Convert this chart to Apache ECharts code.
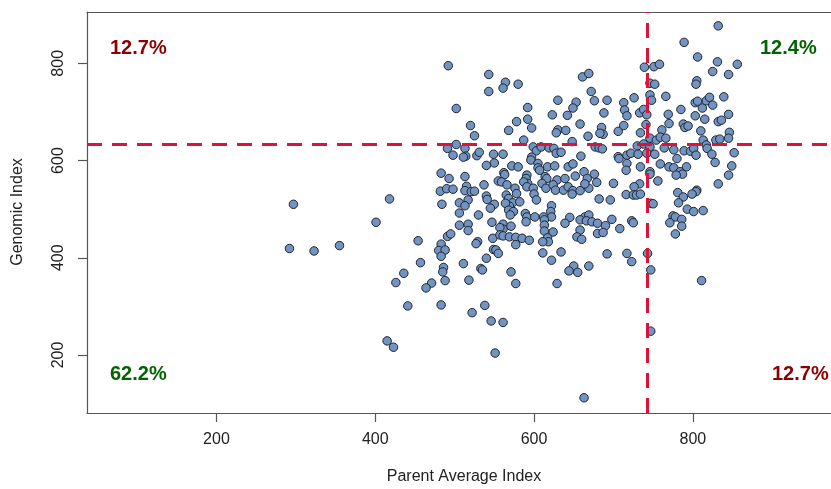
<!DOCTYPE html>
<html>
<head>
<meta charset="utf-8">
<script src="https://cdn.jsdelivr.net/npm/echarts@6/dist/echarts.min.js"></script>
<style>
  html, body { margin: 0; padding: 0; background: #ffffff; }
  #chart { width: 831px; height: 489px; }
</style>
</head>
<body>
<div id="chart"></div>
<script>
// Parent average index vs. genomic index, one pair per animal
const parentAvg = [
  297, 292, 323, 355,
  492, 543, 543, 502, 520, 525, 502, 491, 513, 498, 514, 511, 528, 531, 549, 550,
  540, 555, 483, 493, 513, 537, 482, 490, 498, 515, 513, 521, 525, 540, 541, 550,
  545, 484, 506, 517, 513, 506, 530, 418, 401,
  454, 483, 480, 488, 483, 491, 495, 506, 517, 517, 547, 529, 527, 548, 549, 552,
  555, 540, 457, 486, 485, 511, 533, 535, 436, 426, 471, 464, 488, 518, 441, 483,
  522, 538, 546, 415, 423, 551,
  661, 669, 564, 561, 580, 672, 630, 653, 676, 692, 649, 592, 623, 642, 688, 592,
  578, 658, 597, 568, 630, 628, 640, 685, 687, 683, 668, 706, 713, 713, 714, 717,
  587, 561, 599, 603, 609, 619, 625, 628, 634, 648, 677, 682, 686, 659, 597, 596,
  605, 605, 607, 572, 580, 617, 626, 643, 649, 663, 676, 667, 679, 706, 707, 717,
  717, 716, 562, 563, 591, 590, 592, 614, 616, 629, 639, 652, 559, 566, 576, 578,
  587, 591, 599, 600, 603, 610, 615, 624, 627, 637, 643, 649, 648, 658, 669, 664,
  682, 696, 700, 716, 565, 568, 573, 569, 564, 582, 568, 574, 570, 589, 591, 601,
  622, 621, 622, 612, 645, 664, 669, 698,
  590, 561, 561, 557, 571, 557, 561, 569, 577, 585, 594, 577, 613, 613, 613, 624,
  617, 618, 611, 639, 658, 666, 673, 680, 690, 708, 658, 654, 660, 680, 687, 611,
  634, 622, 692, 717, 650, 644, 655, 669, 571, 577, 629, 561, 663,
  832, 789, 806, 831, 856, 825, 845, 739, 751, 758, 746, 752, 805, 804, 726, 746,
  748, 766, 803, 806, 812, 817, 821, 825, 839, 785, 769, 803, 815, 832, 836, 845,
  733, 738, 742, 770, 741, 788, 790, 794, 761, 810, 846, 734, 746, 754, 759, 766,
  730, 738, 746, 764, 776, 789, 797, 801, 813, 817, 818, 829, 834, 845, 722, 731,
  742, 752, 804, 824, 852, 780, 759, 770, 776, 792, 734, 828, 849, 746, 746, 784,
  787, 779, 845, 756, 733, 726, 725, 729, 805, 804, 832, 781, 788, 782, 799, 747,
  750, 734, 793, 801, 813, 775, 778, 786,
  723, 725, 771, 786, 778, 743, 723, 747, 811, 747
];
const genomic = [
  510, 419, 414, 425,
  795, 777, 742, 707, 672, 651, 633, 625, 625, 611, 609, 607, 610, 617, 613, 595,
  590, 558, 574, 563, 567, 550, 537, 542, 541, 547, 538, 536, 537, 527, 520, 510,
  502, 510, 513, 519, 507, 492, 488, 521, 473,
  435, 428, 415, 416, 403, 444, 449, 467, 469, 456, 473, 433, 429, 440, 417, 416,
  409, 399, 390, 380, 371, 388, 378, 375, 368, 349, 348, 338, 353, 354, 301, 303,
  287, 302, 270, 229, 216, 204,
  772, 779, 761, 749, 757, 742, 724, 720, 723, 724, 708, 709, 694, 693, 698, 685,
  680, 675, 667, 662, 663, 657, 662, 668, 654, 656, 650, 660, 672, 719, 704, 692,
  642, 613, 628, 620, 628, 626, 625, 615, 617, 639, 628, 626, 624, 609, 607, 601,
  594, 585, 580, 589, 587, 587, 589, 587, 593, 577, 572, 563, 555, 608, 604, 611,
  594, 580, 575, 571, 570, 563, 553, 567, 563, 560, 563, 568, 556, 550, 543, 532,
  556, 546, 543, 531, 519, 553, 543, 550, 539, 539, 546, 538, 531, 538, 543, 552,
  521, 519, 553, 530, 529, 522, 513, 506, 512, 515, 498, 495, 488, 491, 484, 484,
  507, 495, 484, 484, 483, 484, 488, 479,
  474, 469, 459, 462, 465, 447, 445, 443, 442, 440, 436, 427, 478, 467, 455, 453,
  441, 433, 433, 471, 478, 476, 474, 471, 466, 460, 457, 443, 438, 450, 452, 410,
  412, 395, 408, 409, 383, 373, 370, 383, 371, 347, 347, 267, 112,
  877, 843, 813, 803, 798, 783, 777, 792, 793, 798, 759, 757, 764, 757, 729, 735,
  724, 732, 719, 722, 708, 723, 730, 714, 731, 705, 695, 692, 685, 680, 683, 695,
  698, 705, 694, 676, 674, 675, 668, 671, 663, 661, 658, 657, 646, 642, 648, 646,
  630, 634, 628, 626, 622, 620, 619, 625, 642, 632, 625, 642, 644, 646, 615, 613,
  615, 613, 611, 613, 616, 604, 593, 587, 585, 587, 587, 596, 589, 577, 572, 577,
  572, 570, 570, 558, 552, 546, 529, 529, 539, 536, 552, 534, 525, 513, 531, 512,
  511, 531, 500, 495, 497, 486, 484, 479,
  476, 472, 472, 465, 449, 409, 392, 375, 353, 249
];

// Cut-offs splitting the herd into four quadrants
const parentCutoff = 742;
const genomicCutoff = 634;

// Share of animals in each quadrant
const quadrantLabels = ['12.7%', '12.4%', '62.2%', '12.7%'];

// Axis ticks
const xTicks = [200, 400, 600, 800];
const yTicks = [200, 400, 600, 800];

const points = parentAvg.map((x, i) => [x, genomic[i]]);

const chart = echarts.init(document.getElementById('chart'), null, { renderer: 'canvas' });

const FONT = '"Liberation Sans", Arial, Helvetica, sans-serif';
const RED = '#8b0000';
const GREEN = '#006400';
const AXIS = '#555555';
const X_RANGE = { min: 37, max: 974 };

chart.setOption({
  animation: false,
  backgroundColor: '#ffffff',
  grid: { left: 87, right: 0, top: 12, bottom: 76, show: false },
  xAxis: [
    {
      type: 'value',
      min: X_RANGE.min, max: X_RANGE.max,
      splitLine: { show: false },
      axisLine: { show: true, onZero: false, lineStyle: { color: AXIS, width: 1.2 } },
      axisTick: { show: true, length: 9, customValues: xTicks, lineStyle: { color: AXIS, width: 1.2 } },
      axisLabel: { customValues: xTicks, margin: 19, fontSize: 16, color: '#222222', fontFamily: FONT }
    },
    {
      // top edge of the plot box
      type: 'value', position: 'top',
      min: X_RANGE.min, max: X_RANGE.max,
      splitLine: { show: false },
      axisLine: { show: true, onZero: false, lineStyle: { color: AXIS, width: 1.2 } },
      axisTick: { show: false },
      axisLabel: { show: false }
    }
  ],
  yAxis: {
    type: 'value',
    min: 80.7, max: 905.5,
    splitLine: { show: false },
    axisLine: { show: true, onZero: false, lineStyle: { color: AXIS, width: 1.2 } },
    axisTick: { show: true, length: 9, customValues: yTicks, lineStyle: { color: AXIS, width: 1.2 } },
    axisLabel: { customValues: yTicks, rotate: 90, margin: 20, fontSize: 16, color: '#222222', fontFamily: FONT }
  },
  series: [
    {
      type: 'scatter',
      data: points,
      symbol: 'circle',
      symbolSize: 8.5,
      z: 2,
      itemStyle: { color: '#7393c0', borderColor: '#1c2633', borderWidth: 1, opacity: 1 }
    },
    {
      type: 'scatter',
      data: [],
      z: 5,
      markLine: {
        silent: true,
        symbol: 'none',
        animation: false,
        label: { show: false },
        lineStyle: { color: '#dc143c', width: 3, type: [15, 10], cap: 'butt' },
        data: [{ xAxis: parentCutoff }, { yAxis: genomicCutoff }]
      }
    }
  ],
  graphic: [
    { type: 'text', left: 110, top: 38, style: { text: quadrantLabels[0], font: 'bold 20px ' + FONT, fill: RED } },
    { type: 'text', left: 760, top: 38, style: { text: quadrantLabels[1], font: 'bold 20px ' + FONT, fill: GREEN } },
    { type: 'text', left: 110, top: 364, style: { text: quadrantLabels[2], font: 'bold 20px ' + FONT, fill: GREEN } },
    { type: 'text', left: 772, top: 364, style: { text: quadrantLabels[3], font: 'bold 20px ' + FONT, fill: RED } },
    { type: 'text', x: 464, y: 477, style: { text: 'Parent Average Index', font: '16px ' + FONT, fill: '#222222', textAlign: 'center', textVerticalAlign: 'middle' } },
    { type: 'text', x: 18, y: 212, rotation: Math.PI / 2, style: { text: 'Genomic Index', font: '16px ' + FONT, fill: '#222222', textAlign: 'center', textVerticalAlign: 'middle' } }
  ]
});
</script>
</body>
</html>
